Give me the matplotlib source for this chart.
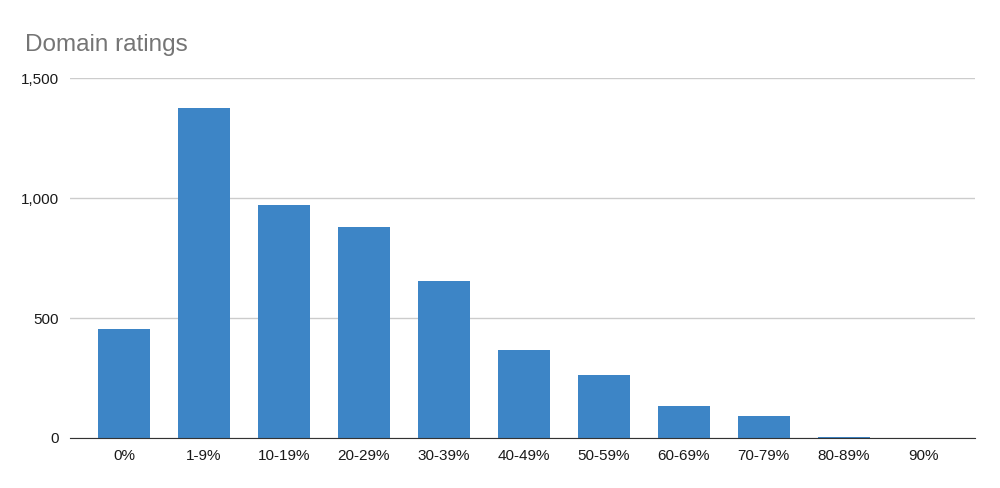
import matplotlib.pyplot as plt

categories = ['0%', '1-9%', '10-19%', '20-29%', '30-39%', '40-49%',
              '50-59%', '60-69%', '70-79%', '80-89%', '90%']
values = [455, 1375, 972, 880, 655, 367, 262, 133, 92, 5, 0]
yticks = [0, 500, 1000, 1500]
ytick_labels = ['0', '500', '1,000', '1,500']

plt.rcParams['font.family'] = ['Arial', 'Liberation Sans', 'DejaVu Sans']

fig = plt.figure(figsize=(10, 4.88), dpi=100)
ax = fig.add_axes([0.07, 0.1025, 0.905, 0.7375])

x = range(len(categories))
ax.bar(x, values, width=0.65, color='#3d85c6', zorder=3)

ax.set_xlim(-0.675, 10.64)
ax.set_ylim(0, 1500)
ax.set_yticks(yticks)
ax.set_yticklabels(ytick_labels)
ax.set_xticks(list(x))
ax.set_xticklabels(categories)
ax.grid(axis='y', color='#cccccc', linewidth=1, zorder=0)
for s in ['top', 'right', 'left']:
    ax.spines[s].set_visible(False)
ax.spines['bottom'].set_color('#333333')
ax.spines['bottom'].set_zorder(4)
ax.tick_params(axis='both', length=0, labelsize=11, colors='#1a1a1a')
ax.tick_params(axis='x', pad=8)
ax.tick_params(axis='y', pad=8)

fig.text(0.025, 0.895, 'Domain ratings', fontsize=17.5, color='#757575')

fig.savefig('out.png')
